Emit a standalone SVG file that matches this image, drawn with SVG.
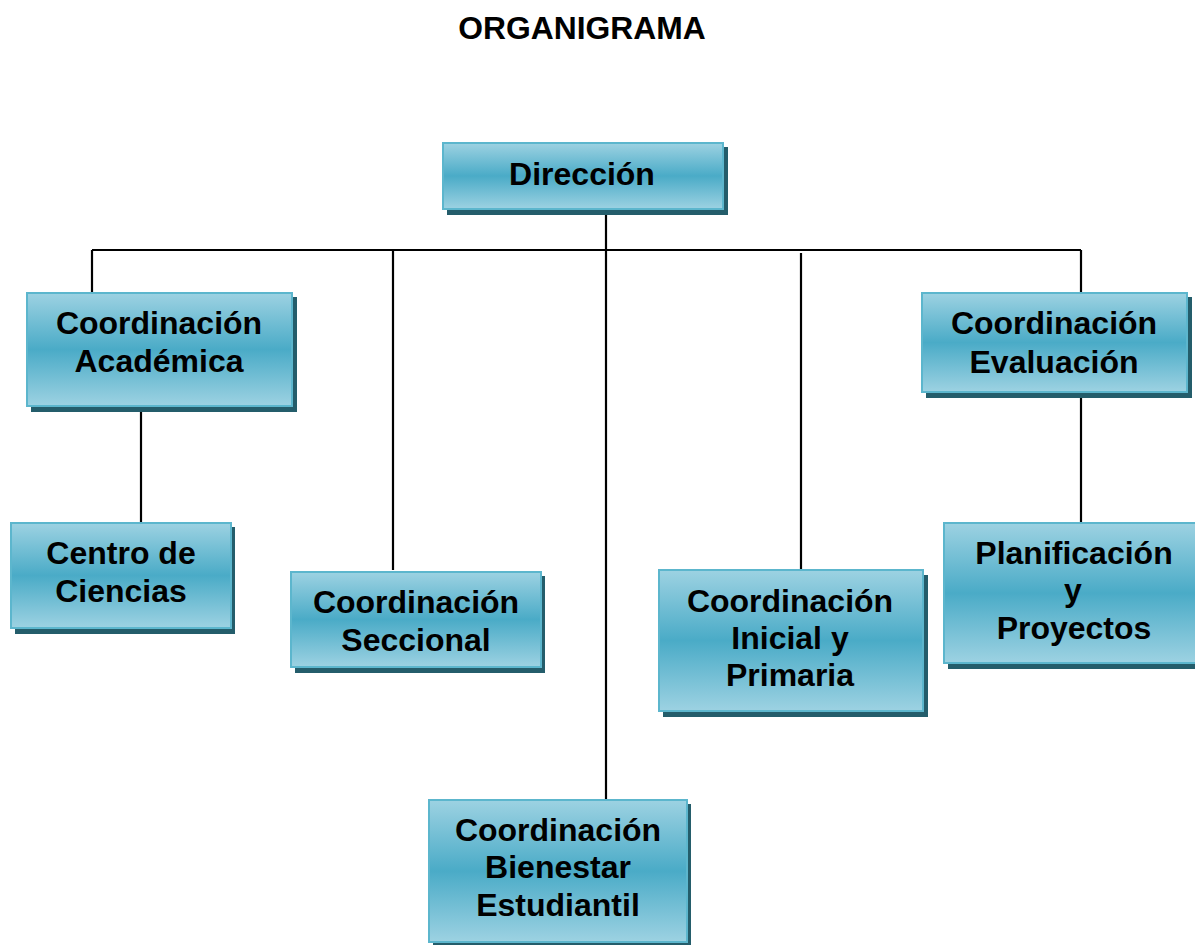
<svg xmlns="http://www.w3.org/2000/svg" width="1195" height="945" viewBox="0 0 1195 945">
<style>
.t{font-family:"Liberation Sans",Arial,sans-serif;font-weight:bold;font-size:32px;fill:#000;text-anchor:middle}
.title{font-family:"Liberation Sans",Arial,sans-serif;font-weight:bold;font-size:31.8px;fill:#000;text-anchor:middle}
.box{fill:url(#g);stroke:#5cb6cd;stroke-width:2}
.sh{fill:#245d6b}
.c{stroke:#000;stroke-width:2.2;fill:none}
</style>
<defs>
<linearGradient id="g" x1="0" y1="0" x2="0" y2="1">
<stop offset="0" stop-color="#9dd2e2"/>
<stop offset="0.5" stop-color="#4aabc7"/>
<stop offset="1" stop-color="#9dd2e2"/>
</linearGradient>
</defs>
<rect width="1195" height="945" fill="#fff"/>
<text class="title" x="582" y="39">ORGANIGRAMA</text>
<g id="connectors">
<line class="c" x1="92" y1="250" x2="1081" y2="250"/>
<line class="c" x1="606" y1="210" x2="606" y2="800"/>
<line class="c" x1="92" y1="250" x2="92" y2="293"/>
<line class="c" x1="141" y1="406" x2="141" y2="523"/>
<line class="c" x1="393" y1="250" x2="393" y2="570"/>
<line class="c" x1="801" y1="253" x2="801" y2="570"/>
<line class="c" x1="1081" y1="250" x2="1081" y2="293"/>
<line class="c" x1="1081" y1="392" x2="1081" y2="523"/>
</g>
<g id="direccion">
<rect class="sh" x="447" y="147" width="281" height="68"/>
<rect class="box" x="443" y="143" width="280" height="66"/>
<text class="t" x="582" y="185">Dirección</text>
</g>
<g id="academica">
<rect class="sh" x="31" y="297" width="266" height="115"/>
<rect class="box" x="27" y="293" width="265" height="113"/>
<text class="t" x="159" y="334">Coordinación</text>
<text class="t" x="159" y="372">Académica</text>
</g>
<g id="evaluacion">
<rect class="sh" x="926" y="297" width="266" height="101"/>
<rect class="box" x="922" y="293" width="265" height="99"/>
<text class="t" x="1054" y="334">Coordinación</text>
<text class="t" x="1054" y="373">Evaluación</text>
</g>
<g id="centro">
<rect class="sh" x="15" y="527" width="220" height="107"/>
<rect class="box" x="11" y="523" width="220" height="105"/>
<text class="t" x="121" y="564">Centro de</text>
<text class="t" x="121" y="602">Ciencias</text>
</g>
<g id="seccional">
<rect class="sh" x="295" y="576" width="250" height="97"/>
<rect class="box" x="291" y="572" width="250" height="95"/>
<text class="t" x="416" y="613">Coordinación</text>
<text class="t" x="416" y="651">Seccional</text>
</g>
<g id="inicial">
<rect class="sh" x="663" y="575" width="265" height="142"/>
<rect class="box" x="659" y="570" width="264" height="141"/>
<text class="t" x="790" y="612">Coordinación</text>
<text class="t" x="790" y="649">Inicial y</text>
<text class="t" x="790" y="686">Primaria</text>
</g>
<g id="planificacion">
<rect class="sh" x="948" y="527" width="252" height="142"/>
<rect class="box" x="944" y="523" width="252" height="140"/>
<text class="t" x="1074" y="564">Planificación</text>
<text class="t" x="1073" y="601">y</text>
<text class="t" x="1074" y="639">Proyectos</text>
</g>
<g id="bienestar">
<rect class="sh" x="433" y="804" width="258" height="145"/>
<rect class="box" x="429" y="800" width="258" height="142"/>
<text class="t" x="558" y="841">Coordinación</text>
<text class="t" x="558" y="878">Bienestar</text>
<text class="t" x="558" y="916">Estudiantil</text>
</g>
</svg>
